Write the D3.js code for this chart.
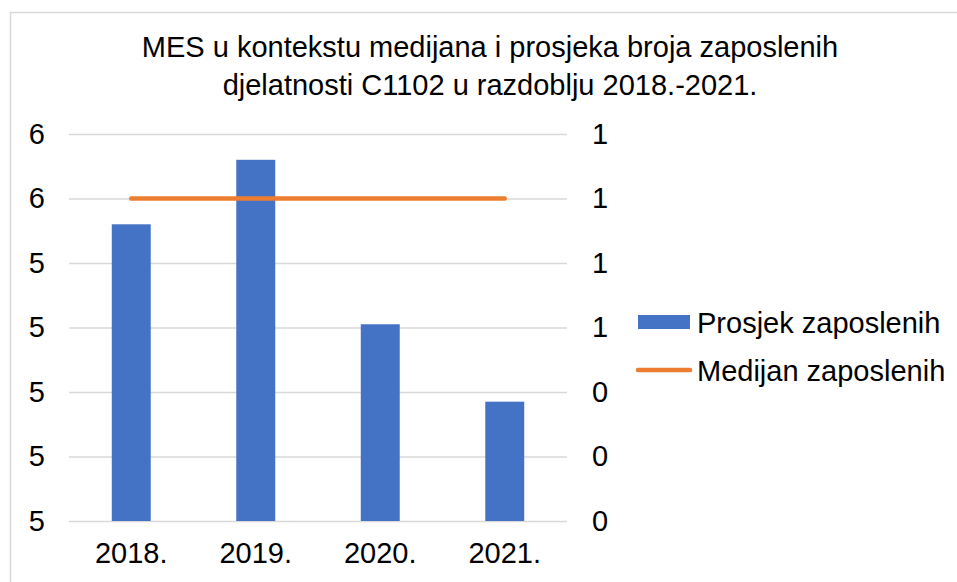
<!DOCTYPE html>
<html lang="hr">
<head>
<meta charset="UTF-8" />
<title>MES C1102</title>
<script src="https://d3js.org/d3.v7.min.js"></script>
<style>
  body { margin: 0; background: #fff; }
  text { font-family: "Liberation Sans", Arial, sans-serif; fill: #000; }
</style>
</head>
<body>
<svg width="957" height="582"></svg>
<script>
// podaci
const years = ["2018.", "2019.", "2020.", "2021."];
const prosjek = [5.52, 5.72, 5.21, 4.97];
const medijan = [1, 1, 1, 1];
const leftTicks = [4.6, 4.8, 5.0, 5.2, 5.4, 5.6, 5.8];
const leftLabels = ["5", "5", "5", "5", "5", "6", "6"];
const rightTicks = [0, 0.2, 0.4, 0.6, 0.8, 1.0, 1.2];
const rightLabels = ["0", "0", "0", "1", "1", "1", "1"];
const titleLines = [
  "MES u kontekstu medijana i prosjeka broja zaposlenih",
  "djelatnosti C1102 u razdoblju 2018.-2021."
];
const seriesNames = ["Prosjek zaposlenih", "Medijan zaposlenih"];

const blue = "#4472C4", orange = "#ED7D31", grid = "#d9d9d9";
const fs = 29;

const svg = d3.select("svg");

// okvir grafikona
svg.append("rect")
  .attr("x", 10.5).attr("y", 12.5)
  .attr("width", 980).attr("height", 620)
  .attr("fill", "none").attr("stroke", grid).attr("stroke-width", 1.5);

const plot = { left: 69, right: 567, top: 134, bottom: 521 };

const x = d3.scaleBand()
  .domain(years)
  .range([plot.left, plot.right])
  .paddingInner(0.687)
  .paddingOuter(0.687 / 2);

const yL = d3.scaleLinear().domain([4.6, 5.8]).range([plot.bottom, plot.top]);
const yR = d3.scaleLinear().domain([0, 1.2]).range([plot.bottom, plot.top]);

// mreža
svg.append("g")
  .attr("transform", `translate(${plot.left},0)`)
  .call(d3.axisRight(yL).tickValues(leftTicks).tickSize(plot.right - plot.left).tickFormat(""))
  .call(g => g.select(".domain").remove())
  .call(g => g.selectAll("line").attr("stroke", grid).attr("stroke-width", 1.5));

// lijeva os
svg.append("g")
  .attr("transform", "translate(45,0)")
  .call(d3.axisLeft(yL).tickValues(leftTicks).tickSize(0).tickPadding(0)
    .tickFormat((d, i) => leftLabels[i]))
  .call(g => g.select(".domain").remove())
  .call(g => g.selectAll("text").style("font-size", fs + "px").attr("fill", "#000"));

// desna os
svg.append("g")
  .attr("transform", "translate(592,0)")
  .call(d3.axisRight(yR).tickValues(rightTicks).tickSize(0).tickPadding(0)
    .tickFormat((d, i) => rightLabels[i]))
  .call(g => g.select(".domain").remove())
  .call(g => g.selectAll("text").style("font-size", fs + "px").attr("fill", "#000"));

// x os
svg.append("g")
  .attr("transform", `translate(0,${plot.bottom})`)
  .call(d3.axisBottom(x).tickSize(0).tickPadding(21))
  .call(g => g.select(".domain").remove())
  .call(g => g.selectAll("text").style("font-size", fs + "px").attr("fill", "#000"));

// stupci
svg.append("g").selectAll("rect")
  .data(prosjek)
  .join("rect")
  .attr("x", (d, i) => x(years[i]))
  .attr("width", x.bandwidth())
  .attr("y", d => yL(d))
  .attr("height", d => yL(4.6) - yL(d))
  .attr("fill", blue);

// linija medijana
const line = d3.line()
  .x((d, i) => x(years[i]) + x.bandwidth() / 2)
  .y(d => yR(d));

svg.append("path")
  .datum(medijan)
  .attr("d", line)
  .attr("fill", "none")
  .attr("stroke", orange)
  .attr("stroke-width", 4.5)
  .attr("stroke-linecap", "round");

// naslov
svg.append("g").selectAll("text")
  .data(titleLines)
  .join("text")
  .attr("x", 490)
  .attr("y", (d, i) => 57 + i * 38)
  .attr("text-anchor", "middle")
  .style("font-size", fs + "px")
  .text(d => d);

// legenda
const leg = svg.append("g");
leg.append("rect")
  .attr("x", 638).attr("y", 315).attr("width", 52).attr("height", 14)
  .attr("fill", blue);
leg.append("line")
  .attr("x1", 638).attr("x2", 690).attr("y1", 370).attr("y2", 370)
  .attr("stroke", orange).attr("stroke-width", 4.5).attr("stroke-linecap", "round");
leg.selectAll("text")
  .data(seriesNames)
  .join("text")
  .attr("x", 697)
  .attr("y", (d, i) => 333 + i * 48)
  .style("font-size", fs + "px")
  .text(d => d);
</script>
</body>
</html>
